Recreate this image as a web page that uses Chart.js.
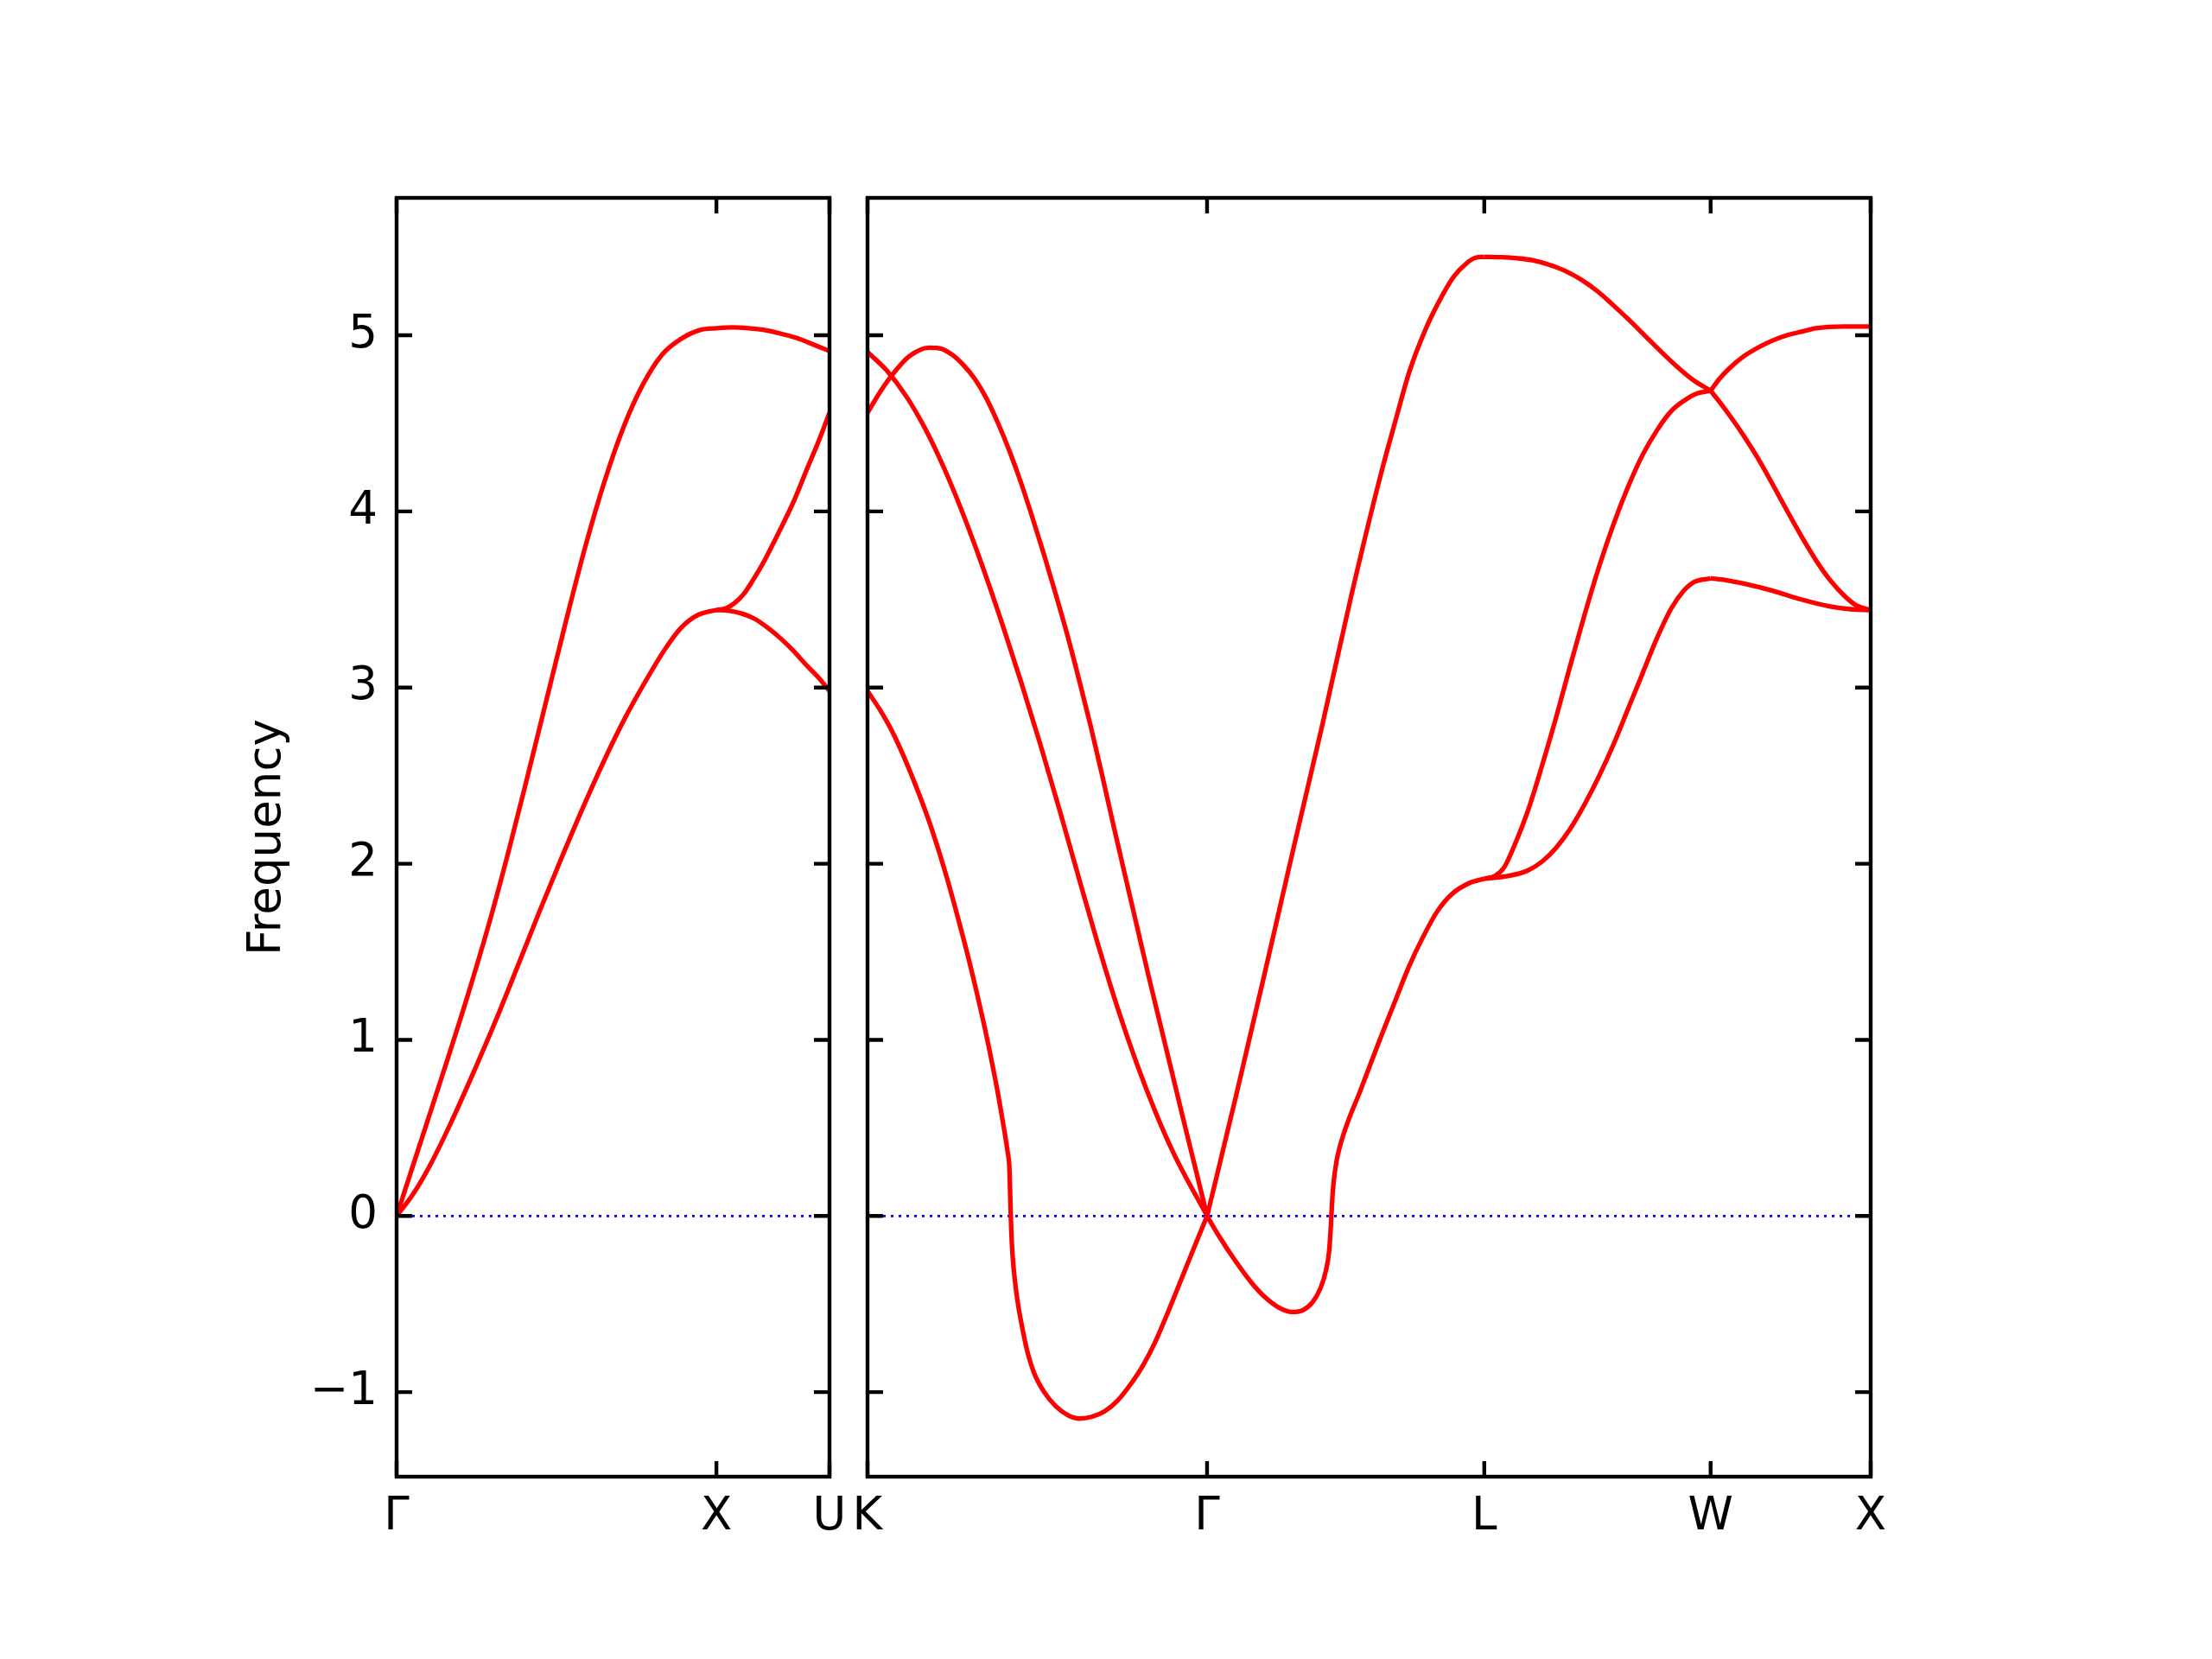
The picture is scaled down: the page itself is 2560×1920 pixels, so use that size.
<!DOCTYPE html>
<html>
<head>
<meta charset="utf-8">
<title>Frequency band structure</title>
<script src="https://cdn.jsdelivr.net/npm/chart.js@4.4.1/dist/chart.umd.min.js"></script>
<style>
  html, body { margin: 0; padding: 0; background: #fff; }
  #wrap { position: relative; width: 2560px; height: 1920px; }
  canvas { position: absolute; top: 0; }
</style>
</head>
<body>
<div id="wrap">
  <canvas id="left" width="1000" height="1920" style="left:0;width:1000px;height:1920px"></canvas>
  <canvas id="right" width="1600" height="1920" style="left:960px;width:1600px;height:1920px"></canvas>
</div>
<script>
// path distances of the high-symmetry points (units of 2pi/a)
const leftTickPos = [0, 1, 1.3536];
const leftTickLabels = ['Γ', 'X', 'U'];
const rightTickPos = [0, 1.0607, 1.9267, 2.6338, 3.1338];
const rightTickLabels = ['K', 'Γ', 'L', 'W', 'X'];
const yTicks = [-1, 0, 1, 2, 3, 4, 5];
const yMin = -1.48, yMax = 5.78;

// left panel: Γ – X – U
const gxuUpperX = [0, 0.077, 0.154, 0.222, 0.289, 0.35, 0.41, 0.47, 0.53, 0.59, 0.65, 0.71, 0.77, 0.83, 0.89, 0.949, 1.0, 1.05, 1.10, 1.15, 1.20, 1.25, 1.30, 1.3536];
const gxuUpperY = [0, 0.43, 0.86, 1.25, 1.66, 2.07, 2.50, 2.94, 3.38, 3.80, 4.17, 4.48, 4.72, 4.89, 4.98, 5.03, 5.04, 5.045, 5.04, 5.03, 5.01, 4.985, 4.95, 4.91];
const gxuMidX = [0, 0.05, 0.108, 0.17, 0.244, 0.31, 0.379, 0.447, 0.515, 0.583, 0.650, 0.718, 0.786, 0.84, 0.89, 0.94, 1.0, 1.03, 1.057, 1.085, 1.111, 1.15, 1.192, 1.24, 1.283, 1.32, 1.3536];
const gxuMidY = [0, 0.12, 0.30, 0.53, 0.83, 1.11, 1.42, 1.73, 2.03, 2.32, 2.59, 2.84, 3.06, 3.22, 3.34, 3.41, 3.44, 3.45, 3.48, 3.53, 3.60, 3.72, 3.87, 4.05, 4.24, 4.40, 4.56];
const xuLowX = [1.0, 1.04, 1.08, 1.12, 1.16, 1.20, 1.24, 1.28, 1.32, 1.3536];
const xuLowY = [3.44, 3.436, 3.42, 3.39, 3.34, 3.28, 3.21, 3.13, 3.055, 2.98];

// right panel: K – Γ
const kgAX = [0, 0.04, 0.075, 0.13, 0.192, 0.228, 0.264, 0.300, 0.336, 0.372, 0.408, 0.444, 0.480, 0.516, 0.552, 0.588, 0.624, 0.660, 0.696, 0.732, 0.768, 0.805, 0.841, 0.877, 0.913, 0.949, 0.985, 1.023, 1.0607];
const kgAY = [4.56, 4.68, 4.77, 4.88, 4.93, 4.925, 4.89, 4.83, 4.75, 4.64, 4.50, 4.34, 4.16, 3.96, 3.75, 3.53, 3.30, 3.05, 2.79, 2.51, 2.22, 1.93, 1.65, 1.37, 1.10, 0.83, 0.56, 0.28, 0];
const kgBX = [0, 0.06, 0.12, 0.18, 0.24, 0.30, 0.36, 0.42, 0.48, 0.54, 0.60, 0.66, 0.72, 0.78, 0.84, 0.90, 0.96, 1.0607];
const kgBY = [4.905, 4.80, 4.656, 4.47, 4.242, 3.978, 3.684, 3.366, 3.03, 2.676, 2.304, 1.92, 1.542, 1.188, 0.87, 0.588, 0.342, 0];
const kgCX = [0, 0.04, 0.08, 0.12, 0.16, 0.20, 0.24, 0.28, 0.32, 0.36, 0.39, 0.41, 0.426, 0.438, 0.443, 0.446, 0.449, 0.453, 0.460, 0.470, 0.484, 0.498, 0.520, 0.552, 0.588, 0.625, 0.660, 0.700, 0.740, 0.780, 0.820, 0.860, 0.900, 0.940, 0.980, 1.020, 1.0607];
const kgCY = [2.98, 2.87, 2.74, 2.58, 2.40, 2.20, 1.97, 1.71, 1.43, 1.12, 0.86, 0.67, 0.50, 0.36, 0.28, 0.10, -0.08, -0.22, -0.36, -0.50, -0.64, -0.76, -0.89, -1.00, -1.08, -1.13, -1.15, -1.14, -1.11, -1.05, -0.96, -0.85, -0.71, -0.54, -0.36, -0.18, 0];

// right panel: Γ – L
const glUpX = [1.0607, 1.151, 1.241, 1.331, 1.421, 1.511, 1.602, 1.65, 1.692, 1.74, 1.782, 1.83, 1.872, 1.90, 1.9267];
const glUpY = [0, 0.68, 1.38, 2.09, 2.79, 3.52, 4.20, 4.52, 4.79, 5.02, 5.18, 5.33, 5.41, 5.44, 5.445];
const glLowX = [1.0607, 1.10, 1.151, 1.20, 1.241, 1.285, 1.327, 1.36, 1.39, 1.415, 1.432, 1.442, 1.447, 1.451, 1.456, 1.465, 1.475, 1.49, 1.51, 1.535, 1.556, 1.60, 1.646, 1.69, 1.737, 1.78, 1.827, 1.88, 1.9267];
const glLowY = [0, -0.12, -0.26, -0.38, -0.46, -0.52, -0.545, -0.535, -0.49, -0.41, -0.31, -0.20, -0.07, 0.07, 0.19, 0.31, 0.39, 0.48, 0.58, 0.69, 0.79, 1.00, 1.21, 1.41, 1.59, 1.73, 1.83, 1.89, 1.915];

// right panel: L – W
const lwTopX = [1.9267, 1.98, 2.03, 2.08, 2.13, 2.18, 2.23, 2.28, 2.33, 2.38, 2.43, 2.48, 2.53, 2.58, 2.6338];
const lwTopY = [5.445, 5.443, 5.437, 5.425, 5.40, 5.365, 5.315, 5.25, 5.17, 5.085, 4.995, 4.905, 4.82, 4.745, 4.685];
const lwMidX = [1.9267, 1.96, 1.989, 2.02, 2.061, 2.106, 2.151, 2.196, 2.241, 2.286, 2.331, 2.376, 2.421, 2.466, 2.511, 2.552, 2.592, 2.6338];
const lwMidY = [1.915, 1.93, 1.98, 2.10, 2.29, 2.55, 2.83, 3.13, 3.42, 3.69, 3.93, 4.14, 4.32, 4.46, 4.57, 4.63, 4.67, 4.685];
const lwLowX = [1.9267, 2.0, 2.061, 2.106, 2.151, 2.196, 2.241, 2.286, 2.331, 2.376, 2.421, 2.466, 2.511, 2.55, 2.583, 2.6338];
const lwLowY = [1.915, 1.93, 1.96, 2.01, 2.09, 2.20, 2.34, 2.50, 2.68, 2.88, 3.08, 3.28, 3.45, 3.55, 3.60, 3.62];

// right panel: W – X
const wxTopX = [2.6338, 2.66, 2.691, 2.737, 2.782, 2.827, 2.872, 2.917, 2.962, 3.05, 3.1338];
const wxTopY = [4.685, 4.75, 4.81, 4.88, 4.93, 4.97, 5.00, 5.02, 5.04, 5.05, 5.05];
const wxMidX = [2.6338, 2.66, 2.691, 2.737, 2.782, 2.827, 2.872, 2.917, 2.962, 3.007, 3.052, 3.09, 3.1338];
const wxMidY = [4.685, 4.625, 4.55, 4.43, 4.30, 4.155, 4.005, 3.86, 3.725, 3.61, 3.52, 3.465, 3.44];
const wxLowX = [2.6338, 2.68, 2.737, 2.827, 2.917, 3.007, 3.07, 3.1338];
const wxLowY = [3.62, 3.61, 3.59, 3.55, 3.50, 3.46, 3.445, 3.44];

const FONT = { family: 'DejaVu Sans', size: 53 };

function pts(xs, ys) { return xs.map((x, i) => ({ x: x, y: ys[i] })); }

function band(xs, ys) {
  return {
    data: pts(xs, ys), borderColor: '#ff0000', borderWidth: 5.3,
    pointRadius: 0, fill: false, cubicInterpolationMode: 'monotone', order: 0,
  };
}

function zeroLine(x0, x1) {
  return {
    data: [{ x: x0, y: 0 }, { x: x1, y: 0 }], borderColor: '#0000ff', borderWidth: 2.8,
    borderDash: [3, 6], pointRadius: 0, fill: false, order: 10,
  };
}

// matplotlib-style box with inward ticks on all four sides
const framePlugin = {
  id: 'frame',
  afterDatasetsDraw(chart, args, opts) {
    const { ctx, chartArea: a, scales } = chart;
    const tl = 18;
    ctx.save();
    ctx.strokeStyle = '#000';
    ctx.lineWidth = 4.4;
    ctx.beginPath();
    opts.xTicks.forEach(v => {
      const px = scales.x.getPixelForValue(v);
      ctx.moveTo(px, a.top); ctx.lineTo(px, a.top + tl);
      ctx.moveTo(px, a.bottom); ctx.lineTo(px, a.bottom - tl);
    });
    yTicks.forEach(v => {
      const py = scales.y.getPixelForValue(v);
      ctx.moveTo(a.left, py); ctx.lineTo(a.left + tl, py);
      ctx.moveTo(a.right, py); ctx.lineTo(a.right - tl, py);
    });
    ctx.stroke();
    ctx.strokeRect(a.left, a.top, a.right - a.left, a.bottom - a.top);
    ctx.restore();
  }
};

function makeChart(id, datasets, xTicks, xLabels, showY, padding) {
  return new Chart(document.getElementById(id), {
    type: 'line',
    data: { datasets: datasets },
    plugins: [framePlugin],
    options: {
      responsive: false,
      animation: false,
      events: [],
      layout: { padding: padding },
      plugins: { legend: { display: false }, tooltip: { enabled: false }, frame: { xTicks: xTicks } },
      scales: {
        x: {
          type: 'linear', min: xTicks[0], max: xTicks[xTicks.length - 1],
          grid: { display: false, drawTicks: false }, border: { display: false },
          afterBuildTicks: s => { s.ticks = xTicks.map(v => ({ value: v })); },
          afterFit: s => { s.height = 100; },
          ticks: { autoSkip: false, maxRotation: 0, padding: 15, color: '#000', font: FONT,
                   callback: (v, i) => xLabels[i] },
        },
        y: {
          type: 'linear', min: yMin, max: yMax, display: showY,
          grid: { display: false, drawTicks: false }, border: { display: false },
          afterBuildTicks: s => { s.ticks = yTicks.map(v => ({ value: v })); },
          afterFit: s => { s.width = showY ? 181 : 0; },
          ticks: { padding: 22, color: '#000', font: FONT,
                   callback: v => (v < 0 ? '\u2212' + Math.abs(v) : String(v)) },
          title: { display: showY, text: 'Frequency', color: '#000', font: FONT, padding: 0 },
        },
      },
    },
  });
}

makeChart('left', [
  band(gxuUpperX, gxuUpperY),
  band(gxuMidX, gxuMidY),
  band(xuLowX, xuLowY),
  zeroLine(leftTickPos[0], leftTickPos[2]),
], leftTickPos, leftTickLabels, true, { left: 278, right: 40, top: 229, bottom: 111 });

makeChart('right', [
  band(kgAX, kgAY), band(kgBX, kgBY), band(kgCX, kgCY),
  band(glUpX, glUpY), band(glLowX, glLowY),
  band(lwTopX, lwTopY), band(lwMidX, lwMidY), band(lwLowX, lwLowY),
  band(wxTopX, wxTopY), band(wxMidX, wxMidY), band(wxLowX, wxLowY),
  zeroLine(rightTickPos[0], rightTickPos[4]),
], rightTickPos, rightTickLabels, false, { left: 44, right: 395, top: 229, bottom: 111 });
</script>
</body>
</html>
